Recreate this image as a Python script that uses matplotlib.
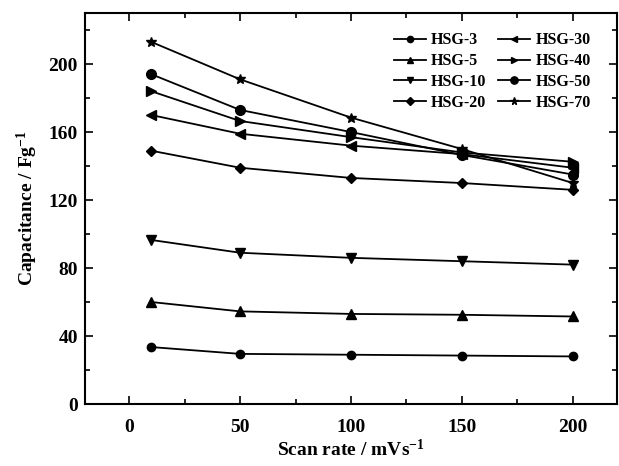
import matplotlib
matplotlib.use("Agg")
import matplotlib.pyplot as plt
from matplotlib.ticker import MultipleLocator

plt.rcParams.update({
    "font.family": ["Liberation Serif", "DejaVu Serif"],
    "font.weight": "bold",
    "axes.labelweight": "bold",
    "mathtext.fontset": "custom",
    "mathtext.rm": "Liberation Serif:bold",
    "mathtext.bf": "Liberation Serif:bold",
    "mathtext.default": "bf",
})

scan_rate = [10, 50, 100, 150, 200]
labels = ["HSG-3", "HSG-5", "HSG-10", "HSG-20", "HSG-30", "HSG-40", "HSG-50", "HSG-70"]
markers = ["o", "^", "v", "D", "<", ">", "o", "*"]
sizes = [6, 6.5, 6.5, 5, 6.5, 6.5, 7, 7.5]

hsg3 = [33.5, 29.5, 29, 28.5, 28]
hsg5 = [60, 54.5, 53, 52.5, 51.5]
hsg10 = [96.5, 89, 86, 84, 82]
hsg20 = [149, 139, 133, 130, 126]
hsg30 = [170, 159, 152, 147, 139]
hsg40 = [184, 166.5, 157, 148, 142.5]
hsg50 = [194, 173, 160, 146.5, 135]
hsg70 = [213, 191, 168.5, 150, 130]
series = [hsg3, hsg5, hsg10, hsg20, hsg30, hsg40, hsg50, hsg70]

fig = plt.figure(figsize=(6.19, 4.66), dpi=100)
ax = fig.add_axes([0.137, 0.133, 0.86, 0.839])

for vals, lab, mk, ms in zip(series, labels, markers, sizes):
    ax.plot(scan_rate, vals, color="black", lw=1.3, marker=mk, ms=ms, label=lab)

ax.set_xlim(-20, 220)
ax.set_ylim(0, 230)
ax.xaxis.set_major_locator(MultipleLocator(50))
ax.xaxis.set_minor_locator(MultipleLocator(25))
ax.yaxis.set_major_locator(MultipleLocator(40))
ax.yaxis.set_minor_locator(MultipleLocator(20))
ax.tick_params(which="both", direction="in", top=True, right=True, width=1.2, labelsize=14)
ax.tick_params(axis="x", pad=11)
ax.tick_params(axis="y", pad=5)
ax.tick_params(which="major", length=6)
ax.tick_params(which="minor", length=3.5)
for sp in ax.spines.values():
    sp.set_linewidth(1.5)

ax.set_xlabel("Scan rate / mVs$^{\\mathbf{-1}}$", fontsize=14, labelpad=2)
ax.set_ylabel("Capacitance / Fg$^{\\mathbf{-1}}$", fontsize=14, labelpad=6)

ax.legend(ncol=2, loc="upper right", bbox_to_anchor=(0.968, 0.975), frameon=False,
          prop={"weight": "bold", "size": 11.5}, handlelength=2.0, handletextpad=0.35,
          columnspacing=0.7, labelspacing=0.3, borderaxespad=0.2, markerscale=0.75)

fig.savefig("out.png", dpi=100)
